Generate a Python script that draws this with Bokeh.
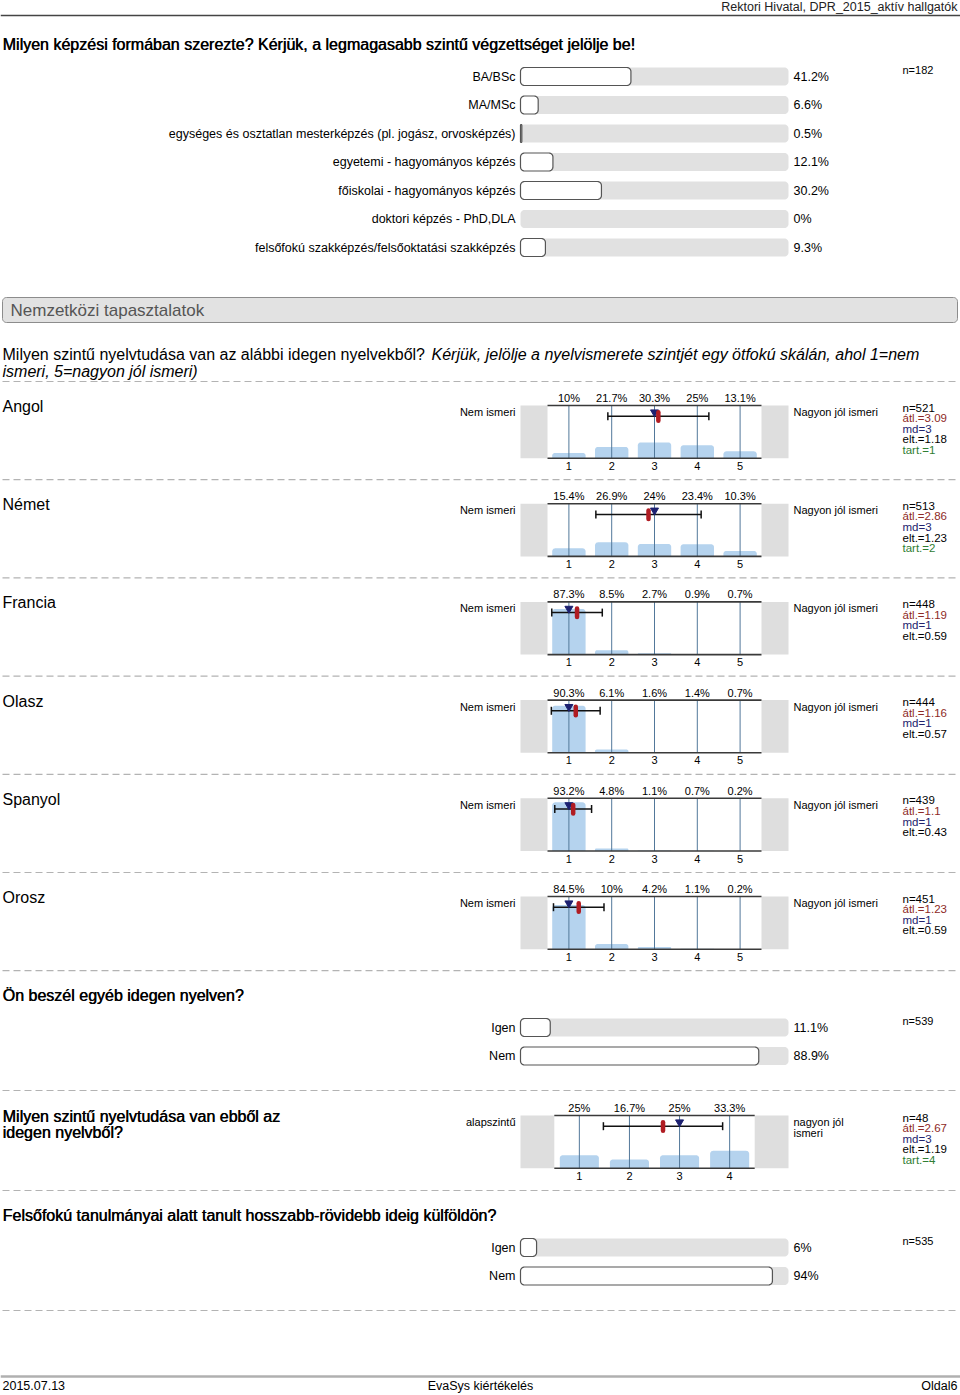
import math
from bokeh.plotting import figure
from bokeh.models import Range1d
from bokeh.core.properties import value
from bokeh.embed import file_html
from bokeh.resources import INLINE

# ---------------- data ----------------
header_right = "Rektori Hivatal, DPR_2015_aktív hallgatók"
footer_left = "2015.07.13"
footer_center = "EvaSys kiértékelés"
footer_right = "Oldal6"

q1_title = "Milyen képzési formában szerezte? Kérjük, a legmagasabb szintű végzettséget jelölje be!"
q1_labels = ["BA/BSc", "MA/MSc",
             "egységes és osztatlan mesterképzés (pl. jogász, orvosképzés)",
             "egyetemi - hagyományos képzés", "főiskolai - hagyományos képzés",
             "doktori képzés - PhD,DLA",
             "felsőfokú szakképzés/felsőoktatási szakképzés"]
q1_pct = [41.2, 6.6, 0.5, 12.1, 30.2, 0, 9.3]
q1_n = 182

section_title = "Nemzetközi tapasztalatok"
q2_title_plain = "Milyen szintű nyelvtudása van az alábbi idegen nyelvekből?"
q2_title_italic = ["Kérjük, jelölje a nyelvismerete szintjét egy ötfokú skálán, ahol 1=nem",
                   "ismeri, 5=nagyon jól ismeri)"]
q2_left = "Nem ismeri"
q2_right = "Nagyon jól ismeri"
q2_scale = ["1", "2", "3", "4", "5"]
languages = ["Angol", "Német", "Francia", "Olasz", "Spanyol", "Orosz"]
lang_pct = [
    [10, 21.7, 30.3, 25, 13.1],
    [15.4, 26.9, 24, 23.4, 10.3],
    [87.3, 8.5, 2.7, 0.9, 0.7],
    [90.3, 6.1, 1.6, 1.4, 0.7],
    [93.2, 4.8, 1.1, 0.7, 0.2],
    [84.5, 10, 4.2, 1.1, 0.2],
]
lang_n = [521, 513, 448, 444, 439, 451]
lang_mean = [3.09, 2.86, 1.19, 1.16, 1.1, 1.23]
lang_md = [3, 3, 1, 1, 1, 1]
lang_sd = [1.18, 1.23, 0.59, 0.57, 0.43, 0.59]
lang_abst = [1, 2, None, None, None, None]

q3_title = "Ön beszél egyéb idegen nyelven?"
q3_labels = ["Igen", "Nem"]
q3_pct = [11.1, 88.9]
q3_n = 539

q4_title = ["Milyen szintű nyelvtudása van ebből az", "idegen nyelvből?"]
q4_left = "alapszintű"
q4_right = ["nagyon jól", "ismeri"]
q4_scale = ["1", "2", "3", "4"]
q4_pct = [25, 16.7, 25, 33.3]
q4_n = 48
q4_mean = 2.67
q4_md = 3
q4_sd = 1.19
q4_abst = 4

q5_title = "Felsőfokú tanulmányai alatt tanult hosszabb-rövidebb ideig külföldön?"
q5_labels = ["Igen", "Nem"]
q5_pct = [6, 94]
q5_n = 535

# ---------------- layout / style ----------------
W, H = 960, 1395
FONT = "Liberation Sans"
TRACK_X0, TRACK_X1 = 520, 788
LABEL_X = 515
PCT_X = 793
STAT_X = 902
ROW_STEP = 28.5
TRACK_H = 18
BLOCK_STEP = 98.2
PLOT_H = 52.7

p = figure(width=W, height=H, x_range=Range1d(0, W), y_range=Range1d(H, 0),
           output_backend="svg", toolbar_location=None,
           x_axis_type=None, y_axis_type=None, min_border=0)
p.outline_line_color = None
p.background_fill_color = "white"
p.border_fill_color = "white"


def txt(xs, ys, texts, size, align="left", color="#000000", style="normal", baseline="middle"):
    p.text(x=list(xs), y=list(ys), text=list(texts), text_font=value(FONT),
           text_font_size=value(f"{size}px"), text_align=align,
           text_baseline=baseline, text_color=color, text_font_style=style)


def heavy(xs, ys, texts, size, align="left", color="#000000"):
    txt(xs, ys, texts, size, align, color)
    txt([x + 0.5 for x in xs], ys, texts, size, align, color)


def rrect(x0, x1, y0, y1, r, top_only=False):
    r = max(0.0, min(r, (x1 - x0) / 2, (y1 - y0) / 2))
    rb = 0.0 if top_only else r
    xs, ys = [], []
    ts = [i * math.pi / 16 for i in range(9)]
    cx, cy = x0 + r, y0 + r
    for t in ts:
        xs.append(cx - r * math.cos(t)); ys.append(cy - r * math.sin(t))
    cx, cy = x1 - r, y0 + r
    for t in ts:
        xs.append(cx + r * math.sin(t)); ys.append(cy - r * math.cos(t))
    cx, cy = x1 - rb, y1 - rb
    for t in ts:
        xs.append(cx + rb * math.cos(t)); ys.append(cy + rb * math.sin(t))
    cx, cy = x0 + rb, y1 - rb
    for t in ts:
        xs.append(cx - rb * math.sin(t)); ys.append(cy + rb * math.cos(t))
    return xs, ys


def dashed(y):
    p.segment(x0=[2], x1=[957], y0=[y], y1=[y], line_color="#b3b3b3",
              line_width=1.2, line_dash="7 4")


def hbar_rows(labels, pcts, y0, n):
    ys = [y0 + i * ROW_STEP for i in range(len(labels))]
    txs, tys, bxs, bys = [], [], [], []
    for y, v in zip(ys, pcts):
        a, b = rrect(TRACK_X0, TRACK_X1, y - TRACK_H / 2, y + TRACK_H / 2, 4)
        txs.append(a); tys.append(b)
        if v > 0:
            x1 = TRACK_X0 + (TRACK_X1 - TRACK_X0) * v / 100.0
            a, b = rrect(TRACK_X0, x1, y - TRACK_H / 2, y + TRACK_H / 2, 4)
            bxs.append(a); bys.append(b)
    p.patches(txs, tys, fill_color="#e1e1e1", line_color=None)
    p.patches(bxs, bys, fill_color="white", line_color="#555555", line_width=1.2)
    txt([LABEL_X] * len(ys), ys, labels, 12.5, align="right")
    txt([PCT_X] * len(ys), ys, [f"{v:g}%" for v in pcts], 12.5)
    txt([STAT_X], [y0 - 7], [f"n={n}"], 11)


def histogram(top, pcts, mean, md, sd, n, abst, left_label, right_lines, scale):
    k = len(pcts)
    bottom = top + PLOT_H
    cat_w = 42.8 if k == 5 else 50.1
    pw = cat_w * k
    px0 = (TRACK_X0 + TRACK_X1) / 2 - pw / 2
    px1 = px0 + pw
    cxs = [px0 + cat_w * (i + 0.5) for i in range(k)]

    def xv(v):
        return cxs[0] + (v - 1) * cat_w

    p.quad(left=[TRACK_X0, px1], right=[px0, TRACK_X1], top=[top, top],
           bottom=[bottom, bottom], fill_color="#dedede", line_color=None)
    bw = cat_w * 0.78
    bxs, bys = [], []
    for cx, v in zip(cxs, pcts):
        h = v / 100.0 * PLOT_H * 0.99
        if h <= 0:
            continue
        a, b = rrect(cx - bw / 2, cx + bw / 2, bottom - h, bottom, 3, top_only=True)
        bxs.append(a); bys.append(b)
    p.patches(bxs, bys, fill_color="#b5d3ee", line_color=None)
    p.segment(x0=cxs, x1=cxs, y0=[top] * k, y1=[bottom] * k, line_color="#52789a", line_width=1)
    p.segment(x0=[px0, px0], x1=[px1, px1], y0=[top, bottom], y1=[top, bottom],
              line_color="#3a3a3a", line_width=1.6)
    # error bar
    ye = top + 10.7
    xa, xb = xv(mean - sd), xv(mean + sd)
    p.segment(x0=[xa, xa, xb], x1=[xb, xa, xb], y0=[ye, ye - 4, ye - 4], y1=[ye, ye + 4, ye + 4],
              line_color="#111111", line_width=1.5)
    p.scatter(x=[xv(md)], y=[ye - 4], marker="inverted_triangle", size=8,
              fill_color="#1c2070", line_color="#1c2070")
    p.segment(x0=[xv(mean)], x1=[xv(mean)], y0=[ye - 4], y1=[ye + 4.5],
              line_color="#b01c22", line_width=4.5, line_cap="round")
    # labels
    txt(cxs, [top - 7.5] * k, [f"{v:g}%" for v in pcts], 11, align="center")
    txt(cxs, [bottom + 7.5] * k, scale, 11, align="center")
    txt([LABEL_X], [top + 6.5], [left_label], 11, align="right")
    txt([PCT_X] * len(right_lines), [top + 6.5 + 10.5 * i for i in range(len(right_lines))],
        right_lines, 11)
    stats = [(f"n={n}", "#000000"), (f"átl.={mean:g}", "#8e2a26"),
             (f"md={md:g}", "#23236e"), (f"elt.={sd:g}", "#000000")]
    if abst is not None:
        stats.append((f"tart.={abst}", "#2f7d32"))
    for i, (s, c) in enumerate(stats):
        txt([STAT_X], [top + 2 + 10.6 * i], [s], 11.5, color=c)


# ---------------- header ----------------
txt([957], [6], [header_right], 12.5, align="right", color="#222222")
p.segment(x0=[0], x1=[W], y0=[15], y1=[15], line_color="#444444", line_width=1.5)

# ---------------- question 1 ----------------
heavy([2], [44], [q1_title], 16)
hbar_rows(q1_labels, q1_pct, 76, q1_n)

# ---------------- section header ----------------
sx, sy = rrect(2, 957, 297, 322, 4)
p.patch(sx, sy, fill_color="#e2e2e2", line_color="#8c8c8c", line_width=1)
txt([10], [309.5], [section_title], 17, color="#555555")

# ---------------- question 2 (languages) ----------------
txt([2], [354], [q2_title_plain], 16)
txt([431], [354], [q2_title_italic[0]], 16, style="italic")
txt([2], [371], [q2_title_italic[1]], 16, style="italic")
dashed(381)
for i, lang in enumerate(languages):
    top = 405 + BLOCK_STEP * i
    txt([2], [top + 1], [lang], 16)
    histogram(top, lang_pct[i], lang_mean[i], lang_md[i], lang_sd[i], lang_n[i],
              lang_abst[i], q2_left, [q2_right], q2_scale)
    dashed(381 + BLOCK_STEP * (i + 1))

# ---------------- question 3 ----------------
heavy([2], [995], [q3_title], 16)
hbar_rows(q3_labels, q3_pct, 1027, q3_n)
dashed(1090)

# ---------------- question 4 ----------------
heavy([2, 2], [1116, 1132], q4_title, 16)
histogram(1115, q4_pct, q4_mean, q4_md, q4_sd, q4_n, q4_abst, q4_left, q4_right, q4_scale)
dashed(1190)

# ---------------- question 5 ----------------
heavy([2], [1215], [q5_title], 16)
hbar_rows(q5_labels, q5_pct, 1247, q5_n)
dashed(1310)

# ---------------- footer ----------------
p.segment(x0=[0], x1=[W], y0=[1376], y1=[1376], line_color="#b0b0b0", line_width=2.5)
txt([2], [1385], [footer_left], 12.5)
txt([480], [1385], [footer_center], 12.5, align="center")
txt([957], [1385], [footer_right], 12.5, align="right")

html = file_html(p, INLINE, title="EvaSys kiértékelés")
html = html.replace("<head>", "<head><style>html,body{margin:0;padding:0;overflow:hidden;}</style>", 1)
open("out.html", "w").write(html)
